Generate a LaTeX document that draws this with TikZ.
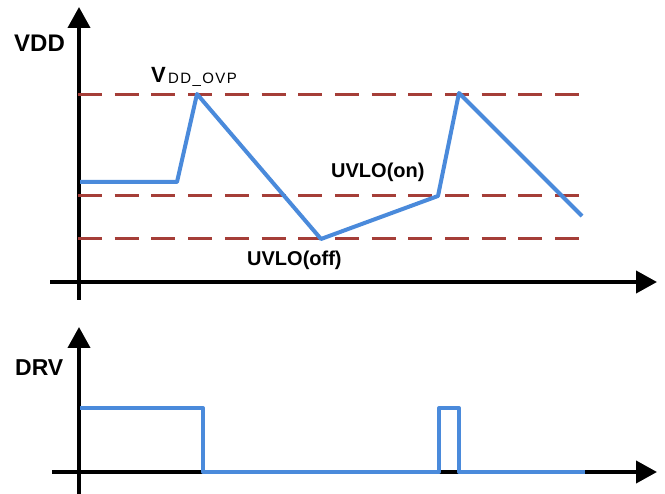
\documentclass[tikz,border=0pt]{standalone}
\usepackage{fontspec}
\setmainfont{Liberation Sans}
\usetikzlibrary{arrows.meta}
\definecolor{wave}{RGB}{74,138,219}
\definecolor{lvl}{RGB}{165,62,56}
\tikzset{
  axis/.style={line width=4pt,black,-{Triangle[length=21pt,width=22pt]}},
  level/.style={line width=3pt,lvl,dash pattern=on 24pt off 12.7pt},
  signal/.style={line width=4pt,wave,line join=round},
  lbl/.style={inner sep=0pt,anchor=base west},
}
\begin{document}
\begin{tikzpicture}[x=1pt,y=-1pt]
\useasboundingbox (0,0) rectangle (665,494);
% --- VDD axes
\coordinate (vb) at (79,300);
\coordinate (vt) at (79,7);
\coordinate (hb) at (50,282);
\coordinate (ht) at (657,282);
\draw[axis] (vb) -- (vt);
\draw[axis] (hb) -- (ht);
% threshold levels
\coordinate (ovpA) at (78,95);  \coordinate (ovpB) at (582,95);
\coordinate (onA) at (78,196);  \coordinate (onB) at (582,196);
\coordinate (offA) at (78,239); \coordinate (offB) at (582,239);
\draw[level] (ovpA) -- (ovpB);
\draw[level] (onA) -- (onB);
\draw[level] (offA) -- (offB);
% VDD waveform
\draw[signal] (80,182) -- (177,182) -- (197,94) -- (321,239) -- (438,196) -- (459,93) -- (582,216);
% labels
\node[lbl,font=\bfseries\fontsize{24}{28}\selectfont] (vdd) at (14,52) {VDD};
\node[lbl,font=\bfseries\fontsize{22}{26}\selectfont] (vovp) at (151,83) {V};
\node[lbl,font=\fontsize{15}{18}\selectfont] (vovpsub) at (168,84) {D\kern1.4pt D\kern1.4pt \_\kern1.4pt O\kern1.4pt V\kern1.4pt P};
\node[lbl,font=\bfseries\fontsize{20}{24}\selectfont] (uvon) at (331,178) {UVLO(on)};
\node[lbl,font=\bfseries\fontsize{20}{24}\selectfont] (uvoff) at (247,266) {UVLO(off)};
% --- DRV axes
\coordinate (dvb) at (79,494);
\coordinate (dvt) at (79,327);
\coordinate (dhb) at (52,472);
\coordinate (dht) at (657,472);
\draw[axis] (dvb) -- (dvt);
\draw[axis] (dhb) -- (dht);
\draw[signal] (80,408) -- (203,408) -- (203,472) -- (439,472) -- (439,408) -- (459,408) -- (459,472) -- (585,472);
\node[lbl,font=\bfseries\fontsize{23}{27}\selectfont] (drv) at (15,376) {DRV};
\end{tikzpicture}
\end{document}
